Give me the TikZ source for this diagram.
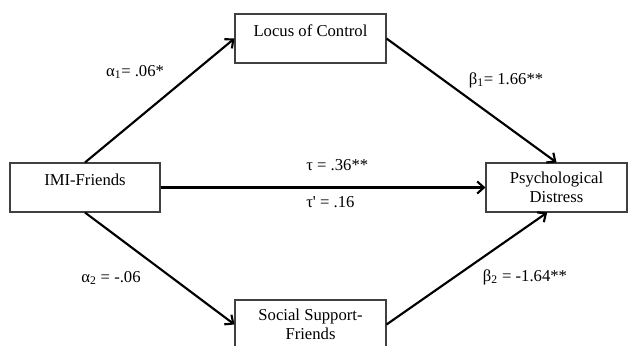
\documentclass[tikz,border=0pt]{standalone}
\usepackage{fontspec}
\setmainfont{Liberation Serif}
\usetikzlibrary{arrows.meta}

\begin{document}
\begin{tikzpicture}[x=0.75pt, y=-0.75pt,
  every node/.style={font=\fontsize{12.5}{14.5}\selectfont},
  varbox/.style={draw=black!75, line width=0.8pt, minimum height=36.75pt, align=center, inner sep=2pt},
  topbox/.style={varbox, text depth=12pt},
  effect/.style={line width=1.6pt, -{Straight Barb[length=5pt,width=9pt]}}]
\useasboundingbox (0,0) rectangle (628,346);

%% variables
\node[topbox, minimum width=112.5pt] (imi) at (85,187.5) {IMI-Friends};
\node[topbox, minimum width=113.25pt] (locus) at (310.5,38.5) {Locus of Control};
\node[varbox, minimum width=105.75pt] (psych) at (556.5,187.5) {Psychological\\Distress};
\node[varbox, minimum width=113.25pt] (social) at (310.5,324.5) {Social Support-\\Friends};

%% paths
\draw[effect] (imi.north) -- (locus.west);
\draw[effect] (locus.east) -- (psych.north);
\draw[effect] (imi.east) -- (psych.west);
\draw[effect] (imi.south) -- (social.west);
\draw[effect] (social.east) -- ([xshift=-7pt]psych.south);

%% coefficients
\node (a1) at (135,72) {α\textsubscript{1}= .06*};
\node (b1) at (506,80) {β\textsubscript{1}= 1.66**};
\node[anchor=west, inner sep=0pt] (tau) at (306,165) {τ = .36**};
\node[anchor=west, inner sep=0pt] (taup) at (306,202) {τ\textquotesingle{} = .16};
\node (a2) at (111,278) {α\textsubscript{2} = -.06};
\node (b2) at (525,277) {β\textsubscript{2} = -1.64**};

\end{tikzpicture}
\end{document}
